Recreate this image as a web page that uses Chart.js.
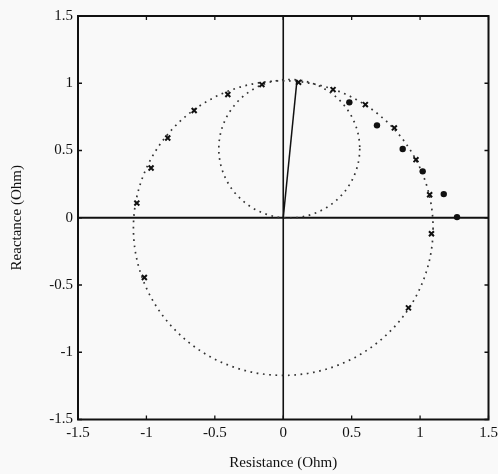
<!DOCTYPE html>
<html>
<head>
<meta charset="utf-8">
<script src="https://cdn.jsdelivr.net/npm/chart.js@4/dist/chart.umd.min.js"></script>
<style>
  html, body { margin: 0; padding: 0; background: #f9f9f9; }
  #wrap { width: 498px; height: 474px; }
</style>
</head>
<body>
<div id="wrap"><canvas id="c" width="498" height="474"></canvas></div>
<script>
// ---- data ----
const crossResistance = [-1.07, -0.966, -0.844, -0.651, -0.405, -0.156, 0.112, 0.364, 0.600, 0.812, 0.970, 1.070, 1.083, 0.915, -1.015];
const crossReactance  = [0.109, 0.370, 0.593, 0.797, 0.916, 0.990, 1.007, 0.953, 0.841, 0.668, 0.432, 0.171, -0.119, -0.670, -0.444];
const dotResistance = [0.483, 0.685, 0.873, 1.019, 1.173, 1.270];
const dotReactance  = [0.858, 0.687, 0.511, 0.345, 0.176, 0.005];
const radialLineX = [0, 0.10];
const radialLineY = [0, 1.02];
// dotted reference circles: centres and radii (Ohm)
const circleCenterX = [0.0, 0.044];
const circleCenterY = [-0.077, 0.513];
const circleRadius  = [1.095, 0.515];
const axisTicks = [-1.5, -1, -0.5, 0, 0.5, 1, 1.5];

const toPts = (xs, ys) => xs.map((x, i) => ({ x: x, y: ys[i] }));

const FONT = "'Liberation Serif', 'DejaVu Serif', serif";

const framePlugin = {
  id: 'frame',
  beforeDraw(chart) {
    const ctx = chart.ctx;
    ctx.save();
    ctx.fillStyle = '#f9f9f9';
    ctx.fillRect(0, 0, chart.width, chart.height);
    ctx.restore();
  },
  beforeDatasetsDraw(chart) {
    const { ctx, chartArea: a, scales: { x, y } } = chart;
    ctx.save();
    ctx.strokeStyle = '#111';
    ctx.lineWidth = 2;
    ctx.beginPath();
    ctx.moveTo(a.left, y.getPixelForValue(0));
    ctx.lineTo(a.right, y.getPixelForValue(0));
    ctx.stroke();
    ctx.lineWidth = 1.6;
    ctx.beginPath();
    ctx.moveTo(x.getPixelForValue(0), a.top);
    ctx.lineTo(x.getPixelForValue(0), a.bottom);
    ctx.stroke();
    ctx.strokeStyle = '#333';
    ctx.lineWidth = 1.7;
    ctx.setLineDash([1.7, 4.6]);
    for (let i = 0; i < circleRadius.length; i++) {
      const cx = x.getPixelForValue(circleCenterX[i]);
      const cy = y.getPixelForValue(circleCenterY[i]);
      const rx = Math.abs(x.getPixelForValue(circleCenterX[i] + circleRadius[i]) - cx);
      const ry = Math.abs(y.getPixelForValue(circleCenterY[i] + circleRadius[i]) - cy);
      ctx.beginPath();
      ctx.ellipse(cx, cy, rx, ry, 0, 0, Math.PI * 2);
      ctx.stroke();
    }
    ctx.restore();
  },
  afterDatasetsDraw(chart) {
    const { ctx, chartArea: a, scales: { x, y } } = chart;
    ctx.save();
    ctx.strokeStyle = '#111';
    ctx.lineWidth = 2;
    ctx.strokeRect(a.left, a.top, a.right - a.left, a.bottom - a.top);
    ctx.lineWidth = 1.3;
    const tl = 4;
    ctx.beginPath();
    axisTicks.forEach(v => {
      const px = x.getPixelForValue(v);
      ctx.moveTo(px, a.bottom); ctx.lineTo(px, a.bottom - tl);
      ctx.moveTo(px, a.top); ctx.lineTo(px, a.top + tl);
      const py = y.getPixelForValue(v);
      ctx.moveTo(a.left, py); ctx.lineTo(a.left + tl, py);
      ctx.moveTo(a.right, py); ctx.lineTo(a.right - tl, py);
    });
    ctx.stroke();
    ctx.restore();
  }
};

new Chart(document.getElementById('c'), {
  type: 'scatter',
  data: {
    datasets: [
      {
        label: 'radial',
        type: 'line',
        data: toPts(radialLineX, radialLineY),
        borderColor: '#111',
        borderWidth: 1.5,
        pointRadius: 0,
        fill: false
      },
      {
        label: 'measured x',
        data: toPts(crossResistance, crossReactance),
        pointStyle: 'crossRot',
        radius: 3.5,
        borderColor: '#111',
        borderWidth: 2
      },
      {
        label: 'measured o',
        data: toPts(dotResistance, dotReactance),
        pointStyle: 'circle',
        radius: 3.2,
        backgroundColor: '#111',
        borderColor: '#111',
        borderWidth: 0
      }
    ]
  },
  options: {
    responsive: false,
    animation: false,
    devicePixelRatio: 1,
    layout: { padding: { top: 16, right: 9.5, left: 0, bottom: 0 } },
    plugins: { legend: { display: false }, tooltip: { enabled: false } },
    scales: {
      x: {
        type: 'linear', min: -1.5, max: 1.5,
        afterBuildTicks: s => { s.ticks = axisTicks.map(v => ({ value: v })); },
        afterFit: s => { s.height = 54.5; s.paddingLeft = 0; s.paddingRight = 0; },
        grid: { display: false, drawTicks: false },
        border: { display: false },
        ticks: { color: '#111', padding: 5, maxRotation: 0, font: { family: FONT, size: 15 },
                 callback: v => String(v) },
        title: { display: true, text: 'Resistance (Ohm)', color: '#111',
                 font: { family: FONT, size: 15 }, padding: { top: 0, bottom: 2 } }
      },
      y: {
        type: 'linear', min: -1.5, max: 1.5,
        afterBuildTicks: s => { s.ticks = axisTicks.map(v => ({ value: v })); },
        afterFit: s => { s.width = 78; s.paddingTop = 0; s.paddingBottom = 0; },
        grid: { display: false, drawTicks: false },
        border: { display: false },
        ticks: { color: '#111', padding: 5, font: { family: FONT, size: 15 },
                 callback: v => String(v) },
        title: { display: true, text: 'Reactance (Ohm)', color: '#111',
                 font: { family: FONT, size: 15 }, padding: { top: 8, bottom: 0 } }
      }
    }
  },
  plugins: [framePlugin]
});
</script>
</body>
</html>
